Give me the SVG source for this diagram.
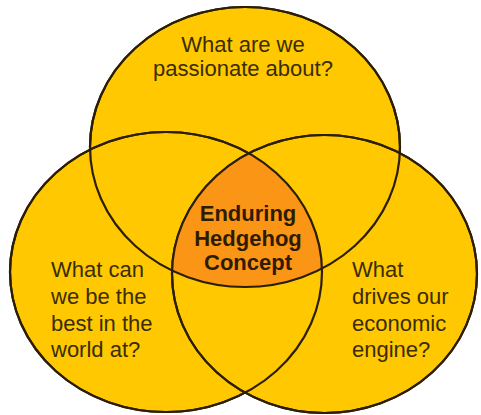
<svg xmlns="http://www.w3.org/2000/svg" width="481" height="415" viewBox="0 0 481 415">
  <style>
    .ring { fill: #FFC800; stroke: #2B1E05; stroke-width: 2.2; }
    .edge { fill: none; stroke: #2B1E05; stroke-width: 2.2; }
    .core { fill: #FA9515; }
    .label { font-family: "Liberation Sans", Arial, sans-serif; font-size: 22px; fill: #3A2D05; }
    .bold { font-weight: bold; fill: #2E1C02; }
  </style>
  <defs>
    <ellipse id="e-top" cx="245" cy="147" rx="155" ry="140"/>
    <ellipse id="e-left" cx="166" cy="272" rx="156" ry="140"/>
    <ellipse id="e-right" cx="324.5" cy="274" rx="152.5" ry="139"/>
    <clipPath id="clip-top"><use href="#e-top"/></clipPath>
    <clipPath id="clip-left"><use href="#e-left"/></clipPath>
  </defs>

  <!-- filled circles -->
  <g id="passion">
    <use href="#e-top" class="ring"/>
  </g>
  <g id="best">
    <use href="#e-left" class="ring"/>
  </g>
  <g id="economic">
    <use href="#e-right" class="ring"/>
  </g>

  <!-- centre: overlap of all three circles -->
  <g id="hedgehog">
    <g clip-path="url(#clip-top)">
      <g clip-path="url(#clip-left)">
        <use href="#e-right" class="core"/>
      </g>
    </g>
  </g>

  <!-- outlines drawn over all fills -->
  <g id="outlines">
    <use href="#e-top" class="edge"/>
    <use href="#e-left" class="edge"/>
    <use href="#e-right" class="edge"/>
  </g>

  <g id="labels">
    <text class="label" text-anchor="middle" x="243" y="52">What are we</text>
    <text class="label" text-anchor="middle" x="243" y="76">passionate about?</text>

    <text class="label" x="51" y="277">What can</text>
    <text class="label" x="51" y="304">we be the</text>
    <text class="label" x="51" y="331">best in the</text>
    <text class="label" x="51" y="357">world at?</text>

    <text class="label" x="352" y="277">What</text>
    <text class="label" x="352" y="304">drives our</text>
    <text class="label" x="352" y="331">economic</text>
    <text class="label" x="352" y="357">engine?</text>

    <text class="label bold" text-anchor="middle" x="248" y="221">Enduring</text>
    <text class="label bold" text-anchor="middle" x="248" y="246">Hedgehog</text>
    <text class="label bold" text-anchor="middle" x="248" y="270">Concept</text>
  </g>
</svg>
